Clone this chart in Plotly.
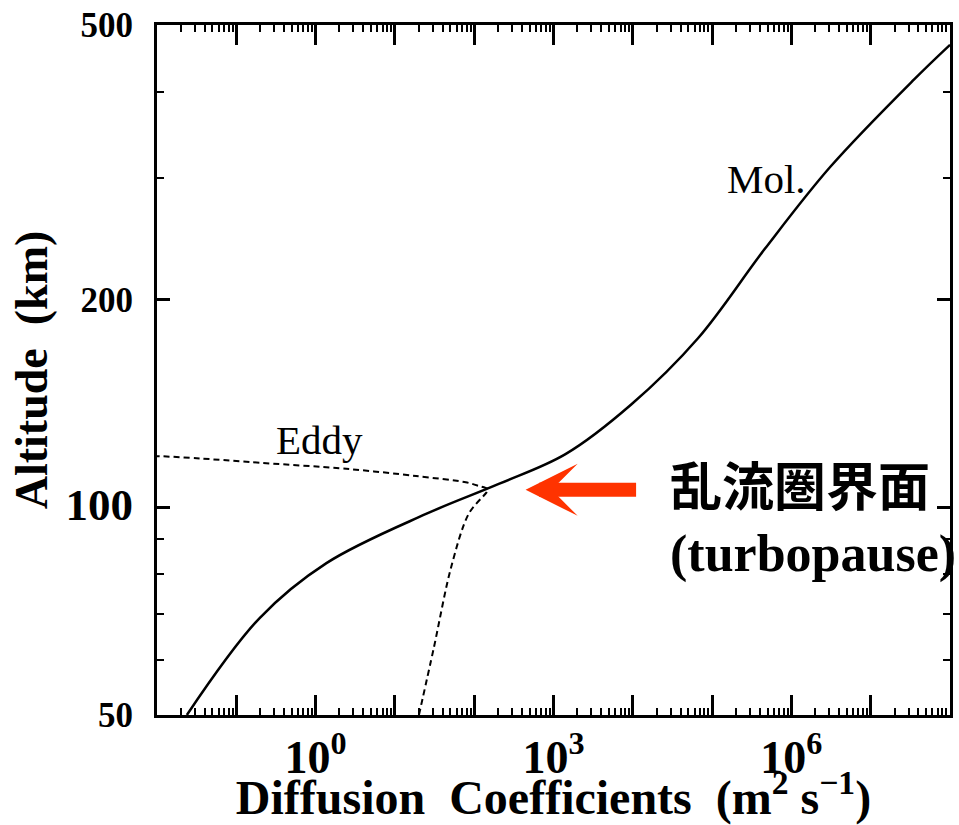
import plotly.graph_objects as go

# ---- data ----
mol_x = [0.0238, 0.197, 1.37, 24.7, 204, 1416, 9550, 66400, 4.6e5, 3.1e6, 3.53e7, 1.0e8]
mol_y = [50, 69.1, 83.0, 97.8, 108.1, 119.4, 140.9, 175.8, 236.7, 311.5, 417, 468]

eddy_x = [20.1, 31, 50.8, 85.5, 144, 150, 114, 78.3, 18.5, 2.66, 0.147, 0.0347, 0.0109, 0.01]
eddy_y = [50, 62.6, 81.6, 97.9, 105.2, 106.2, 107.4, 108.7, 111, 113.6, 116.3, 117.7, 118.6, 118.6]

x_tickvals = [1e-2, 1e-1, 1e0, 1e1, 1e2, 1e3, 1e4, 1e5, 1e6, 1e7, 1e8]
x_ticktext = ["", "", "10<sup>0</sup>", "", "", "10<sup>3</sup>", "", "", "10<sup>6</sup>", "", ""]
y_tickvals = [50, 100, 200, 500]
y_ticktext = ["50", "<span style='font-size:45px'>100</span>", "200", "500"]
y_minor = [60, 70, 80, 90, 300, 400]

SERIF = "Liberation Serif, Times New Roman, serif"
x_minor = [m * 10.0 ** k for k in range(-2, 8) for m in range(2, 10)]

fig = go.Figure()
fig.add_trace(go.Scatter(x=mol_x, y=mol_y, mode="lines",
                         line=dict(color="black", width=2.5, shape="spline", smoothing=1.0),
                         showlegend=False, hoverinfo="skip"))
fig.add_trace(go.Scatter(x=eddy_x, y=eddy_y, mode="lines",
                         line=dict(color="black", width=2, dash="6px,4px", shape="spline", smoothing=0.9),
                         showlegend=False, hoverinfo="skip"))

fig.update_layout(
    width=959, height=825,
    margin=dict(l=157, r=6, t=22, b=107),
    paper_bgcolor="white", plot_bgcolor="white",
    font=dict(family=SERIF, color="black"),
    xaxis=dict(
        type="log", range=[-2, 8], showgrid=False, zeroline=False,
        showline=True, linecolor="black", linewidth=3, mirror="ticks",
        ticks="inside", ticklen=20, tickwidth=2.5, tickcolor="black",
        tickmode="array", tickvals=x_tickvals, ticktext=x_ticktext,
        tickfont=dict(family=SERIF, size=46, weight="bold"),
        minor=dict(ticks="inside", ticklen=7, tickwidth=2, tickcolor="black",
                   tickmode="array", tickvals=x_minor, showgrid=False),
        title=dict(text="Diffusion\u00a0\u00a0Coefficients\u00a0\u00a0(m<sup>2</sup>\u00a0s<sup>\u22121</sup>)",
                   font=dict(family=SERIF, size=48, weight="bold"), standoff=2),
    ),
    yaxis=dict(
        type="log", range=[1.69897, 2.69897], showgrid=False, zeroline=False,
        showline=True, linecolor="black", linewidth=3, mirror="ticks",
        ticks="inside", ticklen=13, tickwidth=2.5, tickcolor="black",
        tickmode="array", tickvals=y_tickvals, ticktext=y_ticktext,
        tickfont=dict(family=SERIF, size=35, weight="bold"), ticklabelstandoff=14,
        minor=dict(ticks="inside", ticklen=7, tickwidth=2, tickcolor="black",
                   tickmode="array", tickvals=y_minor, showgrid=False),
        title=dict(text="Altitude\u00a0\u00a0(km)", font=dict(family=SERIF, size=46, weight="bold"), standoff=4),
    ),
)

fig.add_annotation(x=0.048, y=2.098, xref="x", yref="y", text="Eddy", showarrow=False,
                   font=dict(family=SERIF, size=41), xanchor="center", yanchor="middle")
fig.add_annotation(x=0.769, y=0.777, xref="paper", yref="paper", text="Mol.", showarrow=False,
                   font=dict(family=SERIF, size=41), xanchor="center", yanchor="middle")

fig.add_annotation(x=2.648, y=2.0253, xref="x", yref="y", text="", showarrow=True,
                   ax=112, ay=0, arrowhead=3, arrowsize=0.62, arrowwidth=14, arrowcolor="#ff3300")
fig.add_annotation(x=0.6445, y=0.335, xref="paper", yref="paper", text="<b>乱流圏界面</b>", showarrow=False,
                   xanchor="left", yanchor="middle",
                   font=dict(family="Noto Sans CJK JP, Noto Sans CJK SC", size=52, color="black"))
fig.add_annotation(x=0.6445, y=0.234, xref="paper", yref="paper", text="<b>(turbopause)</b>", showarrow=False,
                   xanchor="left", yanchor="middle",
                   font=dict(family=SERIF, size=52, color="black"))

fig.write_html("out.html")
